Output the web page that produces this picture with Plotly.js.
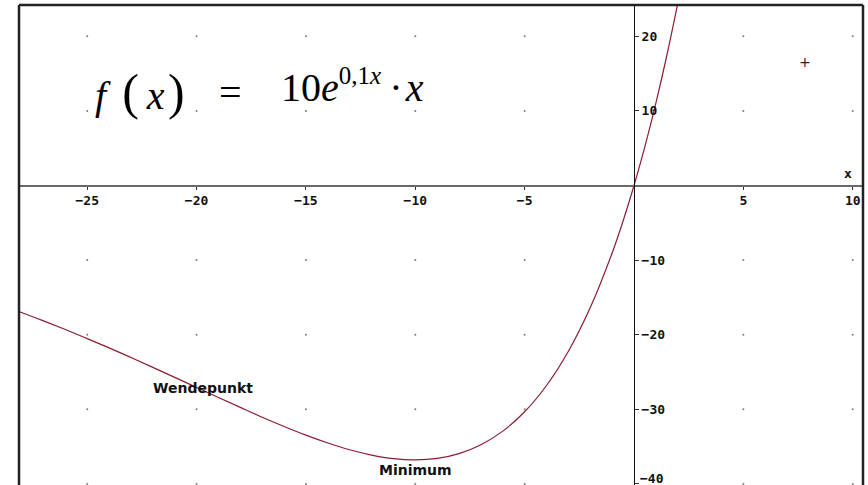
<!DOCTYPE html>
<html>
<head>
<meta charset="utf-8">
<script src="https://cdn.plot.ly/plotly-3.0.1.min.js"></script>
<style>
  html, body { margin: 0; padding: 0; background: #ffffff; }
  #chart { width: 868px; height: 485px; }
</style>
</head>
<body>
<div id="chart"></div>
<script>
// Sample points of f(x) = 10·e^(0,1x)·x
const curveX = [-28.5, -28, -27, -26, -25, -24, -23, -22, -21, -20, -19, -18, -17, -16, -15,
                -14, -13, -12, -11, -10, -9, -8, -7, -6, -5, -4, -3, -2, -1, -0.5, 0, 0.5, 1, 1.5, 2, 2.2];
const curveY = [-16.50, -17.03, -18.15, -19.31, -20.52, -21.77, -23.06, -24.38, -25.72, -27.07, -28.42,
                -29.75, -31.06, -32.30, -33.47, -34.52, -35.43, -36.14, -36.62, -36.79, -36.59,
                -35.95, -34.76, -32.93, -30.33, -26.81, -22.22, -16.37, -9.05, -4.76, 0, 5.26,
                11.05, 17.43, 24.43, 27.41];

// Marked points
const pointNames = ['Wendepunkt', 'Minimum'];
const pointX = [-20, -10];
const pointY = [-27.07, -36.79];

// Axis ticks
const xTicks = [-25, -20, -15, -10, -5, 5, 10];
const yTicks = [20, 10, -10, -20, -30, -40];

const X_RANGE = [-28.12, 10.47];
const Y_RANGE = [-40.15, 24.2];

// Dotted grid at every tick intersection
const gridX = [], gridY = [];
xTicks.forEach(function (gx) { yTicks.forEach(function (gy) { gridX.push(gx); gridY.push(gy); }); });

const W = 868, H = 485, M = {l: 19, r: 5, t: 5, b: 0};
const pw = W - M.l - M.r, ph = H - M.t - M.b;
function px(xp) { return (xp - M.l) / pw; }
function py(yp) { return (H - M.b - yp) / ph; }

const tickFont = {family: 'DejaVu Sans Mono', size: 13, color: '#111111', weight: 'bold'};
const mathFont = {family: 'Liberation Serif', size: 40, color: '#000000'};
const labelFont = {family: 'DejaVu Sans', size: 14, color: '#111111', weight: 'bold'};

const traces = [
  {
    x: gridX, y: gridY, type: 'scatter', mode: 'markers',
    marker: {size: 2, color: '#7a7a7a'}, hoverinfo: 'skip', showlegend: false
  },
  {
    x: curveX, y: curveY, type: 'scatter', mode: 'lines',
    line: {color: '#8b1e2e', width: 1.2, shape: 'spline', smoothing: 1},
    hoverinfo: 'skip', showlegend: false
  }
];

// Lowest y tick sits on the lower edge; its label is drawn as an annotation
const lowTick = yTicks[yTicks.length - 1];

const paren = function (c) { return '<span style="font-size:50px">' + c + '</span>'; };
const thin = '\u2009';
const hair = '\u200A';

const annotations = [
  {xref: 'paper', yref: 'paper', x: px(93), y: py(92), xanchor: 'left', yanchor: 'middle',
   text: '<i>f</i>' + thin + thin + paren('(') + thin + '<i>x</i>' + hair + paren(')'),
   showarrow: false, font: mathFont},
  {xref: 'paper', yref: 'paper', x: px(230), y: py(92), xanchor: 'center', yanchor: 'middle',
   text: '=', showarrow: false, font: mathFont},
  {xref: 'paper', yref: 'paper', x: px(279), y: py(86), xanchor: 'left', yanchor: 'middle',
   text: '10<i>e</i><sup><span style="font-size:25px">0,1<i>x</i></span></sup>' + thin + '·' + hair + '<i>x</i>',
   showarrow: false, font: mathFont},
  {xref: 'paper', yref: 'paper', x: px(848), y: py(173), xanchor: 'center', yanchor: 'middle',
   text: 'x', showarrow: false, font: tickFont},
  {xref: 'paper', yref: 'paper', x: px(805), y: py(62), xanchor: 'center', yanchor: 'middle',
   text: '+', showarrow: false, font: {family: 'DejaVu Sans', size: 14, color: '#222222'}},
  {xref: 'x', yref: 'y', x: 0, y: lowTick, xanchor: 'left', yanchor: 'middle', xshift: 4, yshift: 5,
   text: '\u2212' + Math.abs(lowTick), showarrow: false, font: tickFont},
  {x: pointX[0], y: pointY[0], xref: 'x', yref: 'y', xshift: 6, yshift: -1,
   text: pointNames[0], showarrow: false, font: labelFont},
  {x: pointX[1], y: pointY[1], xref: 'x', yref: 'y', yshift: -10,
   text: pointNames[1], showarrow: false, font: labelFont}
];

const border = {color: '#222222', width: 2.5};
const shapes = [
  {type: 'line', xref: 'paper', yref: 'paper', x0: 0, x1: 0, y0: 0, y1: 1, line: border},
  {type: 'line', xref: 'paper', yref: 'paper', x0: 0, x1: 1, y0: 1, y1: 1, line: border},
  {type: 'line', xref: 'paper', yref: 'paper', x0: 1, x1: 1, y0: 0, y1: 1, line: border}
];

const layout = {
  width: W, height: H,
  margin: M,
  paper_bgcolor: '#ffffff', plot_bgcolor: '#ffffff',
  showlegend: false,
  xaxis: {
    range: X_RANGE, anchor: 'free',
    position: (0 - Y_RANGE[0]) / (Y_RANGE[1] - Y_RANGE[0]),
    tickvals: xTicks, ticks: 'outside', ticklen: 3, tickcolor: '#333333', tickwidth: 1,
    showline: true, linecolor: '#6a6a6a', linewidth: 2,
    showgrid: false, zeroline: false, tickfont: tickFont, fixedrange: true
  },
  yaxis: {
    range: Y_RANGE, anchor: 'free', side: 'right',
    position: (0 - X_RANGE[0]) / (X_RANGE[1] - X_RANGE[0]),
    tickvals: yTicks, ticks: 'outside', ticklen: 4, tickcolor: '#333333', tickwidth: 1,
    showline: true, linecolor: '#111111', linewidth: 1,
    showgrid: false, zeroline: false, tickfont: tickFont, fixedrange: true
  },
  annotations: annotations,
  shapes: shapes
};

Plotly.newPlot('chart', traces, layout, {staticPlot: true, displayModeBar: false});
</script>
</body>
</html>
